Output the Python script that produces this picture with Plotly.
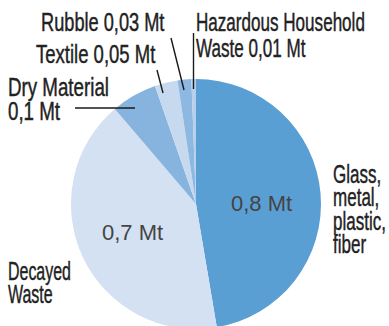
import plotly.graph_objects as go

# Household waste composition (million tonnes)
categories = ["Glass, metal, plastic, fiber", "Decayed Waste", "Dry Material",
              "Textile", "Rubble", "Hazardous Household Waste"]
values = [0.8, 0.7, 0.1, 0.05, 0.03, 0.01]
colors = ["#5A9FD3", "#D3E1F2", "#87B4DF", "#C7D9EE", "#8CB8E2", "#B7CFEB"]

W, H = 389, 330          # figure is a few px taller than the window; the pie runs off the bottom
FONT = "Liberation Sans, Arial, sans-serif"
LABEL_SIZE = 26
ASCENT = 0.905           # Liberation Sans ascender, in em


def fmt(v):
    return ("%g" % v).replace(".", ",") + " Mt"


def px(x, y):
    """pixel position (from top-left) -> paper coordinates"""
    return x / W, 1 - y / H


# pie geometry in pixels
cx, cy, r = 196, 204, 125

fig = go.Figure(go.Pie(
    labels=categories,
    values=values,
    sort=False,
    direction="clockwise",
    rotation=0,
    marker=dict(colors=colors, line=dict(width=0)),
    textinfo="none",
    hoverinfo="label+value",
    showlegend=False,
    domain=dict(x=[(cx - r) / W, (cx + r) / W],
                y=[max(0.0, 1 - (cy + r) / H), 1 - (cy - r) / H]),
))

annotations = []
condensed = {}   # annotation index -> [left px, first baseline px, line step px, widest line px]


def add_outer(lines, left, baseline, widest, step=25.0):
    condensed[len(annotations)] = [left, baseline, step, widest]
    ax, ay = px(left, baseline - ASCENT * LABEL_SIZE)
    annotations.append(dict(
        x=ax, y=ay, xref="paper", yref="paper", text="<br>".join(lines), showarrow=False,
        xanchor="left", yanchor="top", align="left", borderpad=0,
        font=dict(family=FONT, size=LABEL_SIZE, color="#222222"),
    ))


def add_inner(text, x, baseline, size=22):
    ax, ay = px(x, baseline)
    annotations.append(dict(
        x=ax, y=ay, xref="paper", yref="paper", text=text, showarrow=False,
        xanchor="center", yanchor="bottom", yshift=-(0.212 * size), borderpad=0,
        font=dict(family=FONT, size=size, color="#444444"),
    ))


haz_words = categories[5].rsplit(" ", 1)
add_outer([haz_words[0], haz_words[1] + " " + fmt(values[5])], 196, 31, 169, step=26.5)
add_outer([categories[4] + " " + fmt(values[4])], 41, 31, 124)
add_outer([categories[3] + " " + fmt(values[3])], 36, 63, 120)
add_outer([categories[2], fmt(values[2])], 8, 96, 101, step=24.5)
add_outer(["Glass,", "metal,", "plastic,", "fiber"], 333, 183, 53, step=23.5)
add_outer(categories[1].split(" "), 8, 280, 63, step=23)

# values printed inside the two large slices
add_inner(fmt(values[0]), 261, 212)
add_inner(fmt(values[1]), 132, 241.5)

# leader lines
leaders = [
    ((75, 108), (135, 108)),
    ((157, 70), (163, 93)),
    ((171, 38), (184, 90)),
    ((193.5, 33), (193.5, 89)),
]
shapes = []
for (x0, y0), (x1, y1) in leaders:
    a0, b0 = px(x0, y0)
    a1, b1 = px(x1, y1)
    shapes.append(dict(type="line", xref="paper", yref="paper", x0=a0, y0=b0, x1=a1, y1=b1,
                       line=dict(color="#1a1a1a", width=1.4)))

fig.update_layout(
    width=W, height=H,
    margin=dict(l=0, r=0, t=0, b=0),
    paper_bgcolor="white", plot_bgcolor="white",
    annotations=annotations, shapes=shapes,
)

# Set the outer labels in a condensed face: tighten the line spacing, squeeze horizontally
# and pin the first baseline / left edge (composed with plotly's own text transform).
# Positions are measured relative to the plot div, so page margins do not matter.
cond_js = ",".join("%d:[%g,%g,%g,%g]" % (k, *v) for k, v in condensed.items())
post = """
document.documentElement.style.overflow = 'hidden';
document.body.style.overflow = 'hidden';
var gd = document.getElementById('{plot_id}');
var cond = {COND};
gd.querySelectorAll('g.annotation').forEach(function (g) {
    var idx = parseInt(g.getAttribute('data-index'));
    if (!(idx in cond)) return;
    var p = cond[idx];
    var t = g.querySelector('text.annotation-text');
    var lines = t.querySelectorAll('tspan.line');
    for (var i = 1; i < lines.length; i++) lines[i].setAttribute('dy', i * p[2]);
    var rc = t.getBoundingClientRect();
    if (!rc.width) return;
    var start = t.getStartPositionOfChar(0);
    var own = t.getAttribute('transform') || '';
    var E = t.transform.baseVal.consolidate();
    var ex = start.x, ey = start.y;
    if (E) {
        var em = E.matrix;
        ex = em.a * start.x + em.c * start.y + em.e;
        ey = em.b * start.x + em.d * start.y + em.f;
    }
    var gr = gd.getBoundingClientRect();
    var mp = t.parentNode.getScreenCTM();
    var lx = (p[0] - (mp.e - gr.left)) / mp.a;
    var by = (p[1] - (mp.f - gr.top)) / mp.d;
    var s = p[3] / rc.width;
    t.setAttribute('transform',
        'translate(' + lx + ',' + by + ') scale(' + s + ',1) translate(' + (-ex) + ',' + (-ey) + ') ' + own);
    t.style.stroke = 'rgb(34,34,34)';
    t.style.strokeWidth = '0.45px';
});
""".replace("{COND}", "{" + cond_js + "}")

fig.write_html("out.html", post_script=post)
